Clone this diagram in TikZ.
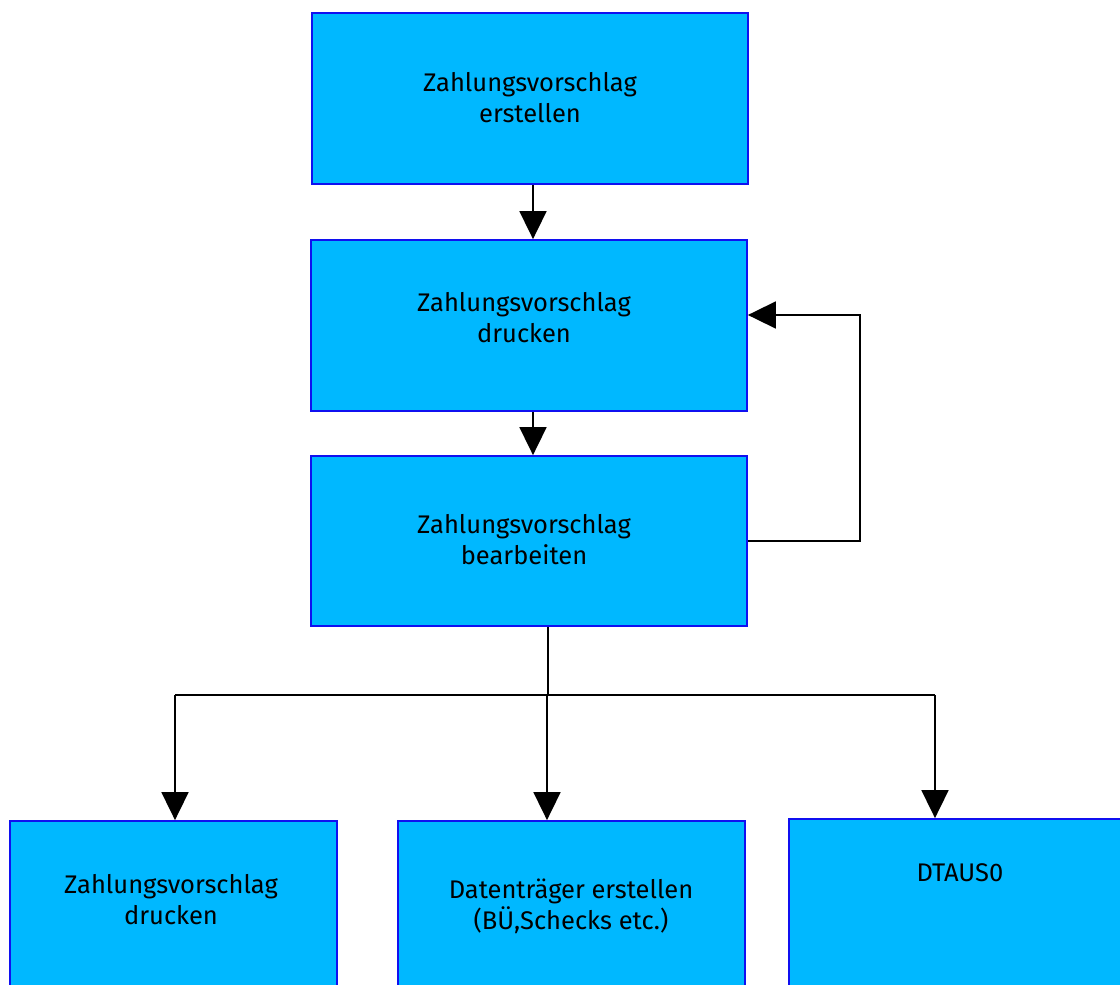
\documentclass[tikz,border=0pt]{standalone}
\usepackage{fontspec}
\setmainfont{Fira Sans}
\usetikzlibrary{arrows.meta}
\definecolor{boxfill}{HTML}{00B8FF}
\definecolor{boxline}{HTML}{1010F0}
\begin{document}
\begin{tikzpicture}[x=1pt,y=-1pt,
  box/.style={draw=boxline, line width=1.8pt, fill=boxfill, rectangle, inner sep=0pt},
  lbl/.style={align=center, font=\fontsize{25.5}{31}\selectfont, inner sep=0pt},
  conn/.style={draw=black, line width=1.8pt},
  arr/.style={conn, -{Triangle[width=27pt,length=28pt]}}]
\useasboundingbox (0,0) rectangle (1120,985);
\fill[white] (0,0) rectangle (1120,985);
\clip (0,0) rectangle (1120,985);
% boxes
\node[box, minimum width=436pt, minimum height=171pt] (A) at (530,98.5) {};
\node[box, minimum width=436pt, minimum height=171pt] (B) at (529,325.5) {};
\node[box, minimum width=436pt, minimum height=170pt] (C) at (529,541) {};
\node[box, minimum width=327pt, minimum height=200pt] (D) at (173.5,921) {};
\node[box, minimum width=347pt, minimum height=200pt] (E) at (571.5,921) {};
\node[box, minimum width=360pt, minimum height=200pt] (F) at (969,919) {};
% labels
\node[lbl] (At) at (530,98) {Zahlungsvorschlag\\erstellen};
\node[lbl] (Bt) at (524,318) {Zahlungsvorschlag\\drucken};
\node[lbl] (Ct) at (524,540) {Zahlungsvorschlag\\bearbeiten};
\node[lbl] (Dt) at (171,900) {Zahlungsvorschlag\\drucken};
\node[lbl] (Et) at (571,906) {Datenträger erstellen\\(BÜ,Schecks etc.)};
\node[lbl] (Ft) at (960,873) {DTAUS0};
% connectors
\coordinate (j) at (548,695);
\coordinate (jl) at (175,695);
\coordinate (jr) at (935,695);
\coordinate (fb1) at (860,541);
\coordinate (fb2) at (860,315);
\draw[arr] (A.south -| 533,0) -- (B.north -| 533,0);
\draw[arr] (B.south -| 533,0) -- (C.north -| 533,0);
\draw[conn] (C.south -| j) -- (j);
\draw[conn] (jl) -- (jr);
\draw[arr] (jl) -- (D.north -| jl);
\draw[arr] (547,695) -- (E.north -| 547,0);
\draw[arr] (jr) -- (F.north -| jr);
\draw[arr] (C.east |- fb1) -- (fb1) -- (fb2) -- (B.east |- fb2);
\end{tikzpicture}
\end{document}
